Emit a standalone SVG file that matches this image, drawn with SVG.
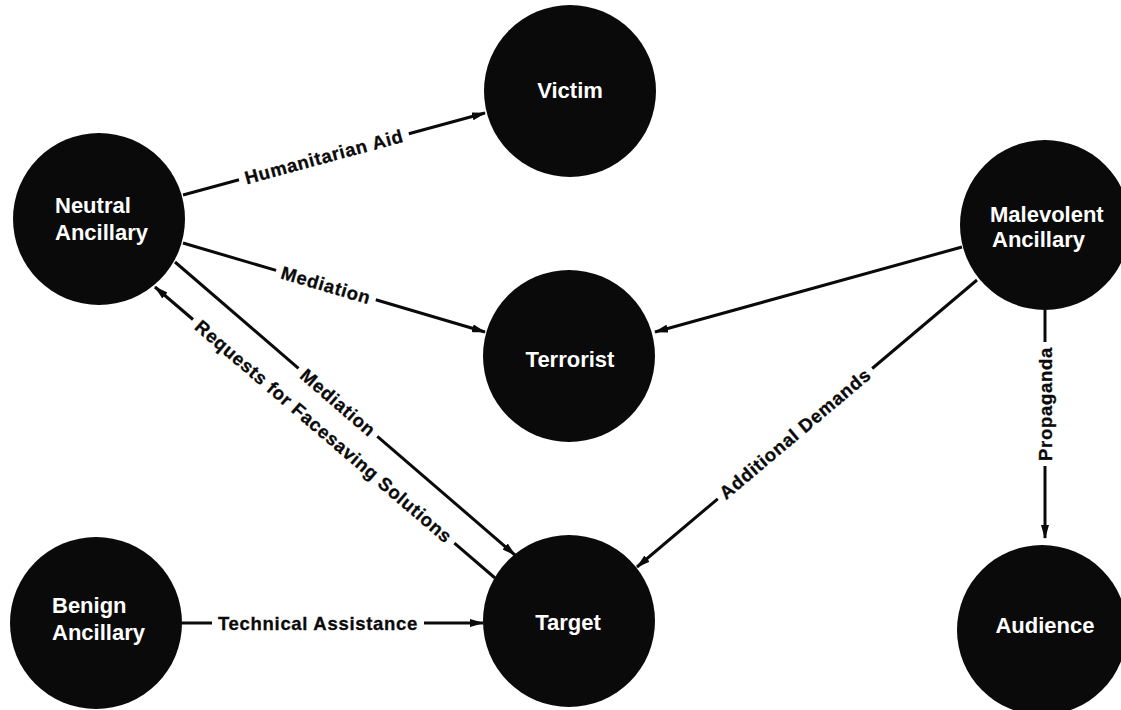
<svg xmlns="http://www.w3.org/2000/svg" width="1121" height="710" viewBox="0 0 1121 710">
<style>
.node circle{fill:#0a0a0a}
.node text{fill:#fff;font-family:"Liberation Sans",Arial,sans-serif;font-weight:bold;font-size:22px}
.edge line{stroke:#0a0a0a;stroke-width:3;stroke-linecap:butt}
.lbl{fill:#0a0a0a;stroke:#0a0a0a;stroke-width:0.3;font-family:"Liberation Sans",Arial,sans-serif;font-weight:bold;font-size:18.5px;letter-spacing:0.7px;text-anchor:middle}
</style>
<defs>
<marker id="ah" markerWidth="14" markerHeight="8" refX="13" refY="4" orient="auto" markerUnits="userSpaceOnUse">
<path d="M0,0 L14,4 L0,8 Z" fill="#0a0a0a"/>
</marker>
</defs>
<rect width="1121" height="710" fill="#fff"/>
<g id="connectors" class="edge">
<g id="e-humanitarian">
<line x1="183" y1="195" x2="239" y2="179.8"/>
<line x1="408.8" y1="133.7" x2="485" y2="113" marker-end="url(#ah)"/>
<text class="lbl" transform="translate(324,156.7) rotate(-15.19)" x="0" y="6.5">Humanitarian Aid</text>
</g>
<g id="e-mediation1">
<line x1="183" y1="243" x2="276.1" y2="270.4"/>
<line x1="375.8" y1="299.8" x2="485" y2="332" marker-end="url(#ah)"/>
<text class="lbl" transform="translate(326,285.1) rotate(16.42)" x="0" y="6.5">Mediation</text>
</g>
<g id="e-malevolent-terrorist">
<line x1="962" y1="247" x2="655" y2="332" marker-end="url(#ah)"/>
</g>
<g id="e-demands">
<line x1="977" y1="280" x2="872.2" y2="368.5"/>
<line x1="717.8" y1="498.8" x2="637" y2="567" marker-end="url(#ah)"/>
<text class="lbl" transform="translate(795,433.6) rotate(-40.17)" x="0" y="6.5">Additional Demands</text>
</g>
<g id="e-propaganda">
<line x1="1045" y1="310" x2="1045" y2="342"/>
<line x1="1045" y1="466" x2="1045" y2="538" marker-end="url(#ah)"/>
<text class="lbl" transform="translate(1045,404) rotate(-90)" x="0" y="6.5">Propaganda</text>
</g>
<g id="e-mediation2">
<line x1="175" y1="262" x2="298.5" y2="368.4"/>
<line x1="377.3" y1="436.3" x2="515" y2="555" marker-end="url(#ah)"/>
<text class="lbl" transform="translate(338,402.5) rotate(40.76)" x="0" y="6.5">Mediation</text>
</g>
<g id="e-requests">
<line x1="193" y1="319.5" x2="155" y2="287" marker-end="url(#ah)"/>
<line x1="454.4" y1="543.2" x2="495" y2="578"/>
<text class="lbl" transform="translate(323.7,431.4) rotate(40.56)" x="0" y="6.5">Requests for Facesaving Solutions</text>
</g>
<g id="e-technical">
<line x1="182" y1="623" x2="212" y2="623"/>
<line x1="424" y1="623" x2="483" y2="623" marker-end="url(#ah)"/>
<text class="lbl" transform="translate(318,623)" x="0" y="6.5">Technical Assistance</text>
</g>
</g>
<g id="n-neutral" class="node">
<circle cx="99" cy="219" r="86"/>
<text x="55" y="213">Neutral</text>
<text x="55" y="240">Ancillary</text>
</g>
<g id="n-victim" class="node">
<circle cx="570" cy="91" r="86"/>
<text x="570" y="98" text-anchor="middle">Victim</text>
</g>
<g id="n-terrorist" class="node">
<circle cx="569" cy="356" r="86"/>
<text x="570" y="367" text-anchor="middle">Terrorist</text>
</g>
<g id="n-target" class="node">
<circle cx="569" cy="621" r="86"/>
<text x="568" y="630" text-anchor="middle">Target</text>
</g>
<g id="n-benign" class="node">
<circle cx="96" cy="623" r="86"/>
<text x="52" y="613">Benign</text>
<text x="52" y="640">Ancillary</text>
</g>
<g id="n-malevolent" class="node">
<circle cx="1045" cy="225" r="85"/>
<text x="990" y="222">Malevolent</text>
<text x="992" y="247">Ancillary</text>
</g>
<g id="n-audience" class="node">
<circle cx="1042" cy="630" r="85"/>
<text x="1045" y="633" text-anchor="middle">Audience</text>
</g>
</svg>
